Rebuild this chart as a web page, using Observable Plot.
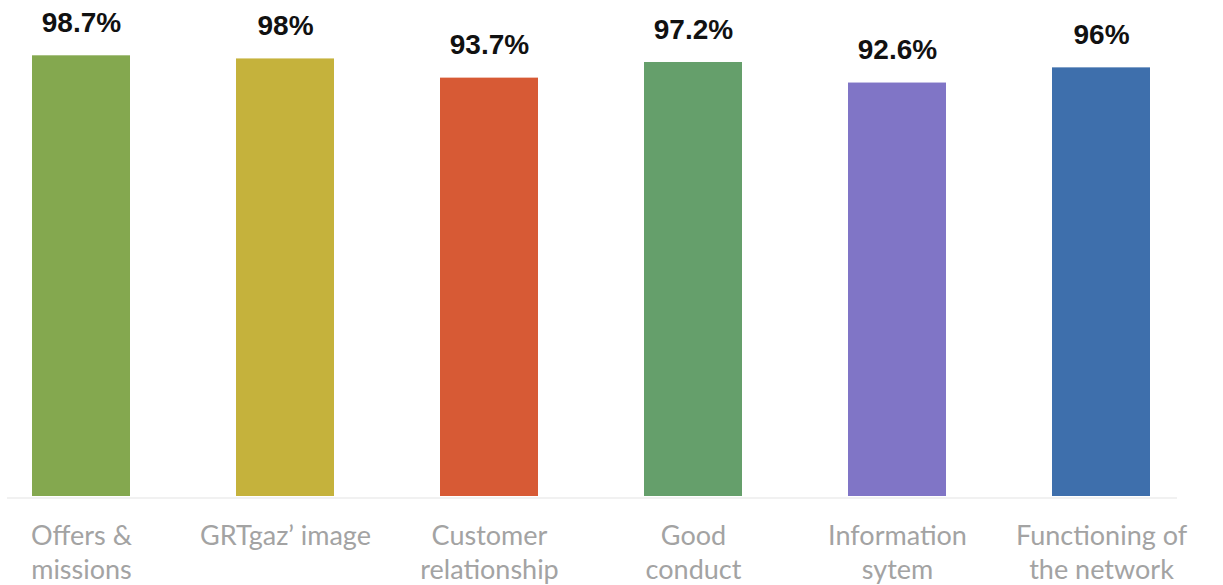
<!DOCTYPE html>
<html>
<head>
<meta charset="utf-8">
<script src="https://cdn.jsdelivr.net/npm/d3@7"></script>
<script src="https://cdn.jsdelivr.net/npm/@observablehq/plot@0.6"></script>
<style>
  html, body { margin: 0; padding: 0; background: #fff; }
  #chart svg { display: block; }
</style>
</head>
<body>
<div id="chart"></div>
<script>
const categories = [
  "Offers &\nmissions",
  "GRTgaz’ image",
  "Customer\nrelationship",
  "Good\nconduct",
  "Information\nsytem",
  "Functioning of\nthe network"
];
const values = [98.7, 98, 93.7, 97.2, 92.6, 96];
const colors = ["#84a84f", "#c5b23c", "#d75a35", "#659f6b", "#8075c6", "#3e6fac"];

const data = categories.map((c, i) => ({category: c, value: values[i], color: colors[i]}));

const chart = Plot.plot({
  width: 1223,
  height: 585,
  marginLeft: 9.5,
  marginRight: 50,
  marginTop: 49.5,
  marginBottom: 89,
  style: {background: "#fff", fontFamily: "Lato"},
  x: {domain: categories, paddingInner: 0.52, paddingOuter: 0.1, label: null},
  y: {domain: [0, 100], axis: null},
  marks: [
    Plot.barY(data, {x: "category", y: "value", fill: "color"}),
    Plot.ruleY([0], {stroke: "#ececec", strokeWidth: 1.5, dy: 1.5, insetLeft: -2.5, insetRight: -4}),
    Plot.text(data, {
      x: "category", y: "value", text: d => d.value + "%",
      lineAnchor: "bottom", dy: -24,
      fontSize: 28, fontWeight: "bold", fontFamily: "Liberation Sans", fill: "#111"
    }),
    Plot.axisX({
      tickSize: 0, tickPadding: 24, fontSize: 27, lineHeight: 1.26,
      fontFamily: "Lato", color: "#a3a3a3", label: null
    })
  ]
});
document.getElementById("chart").appendChild(chart);
</script>
</body>
</html>
